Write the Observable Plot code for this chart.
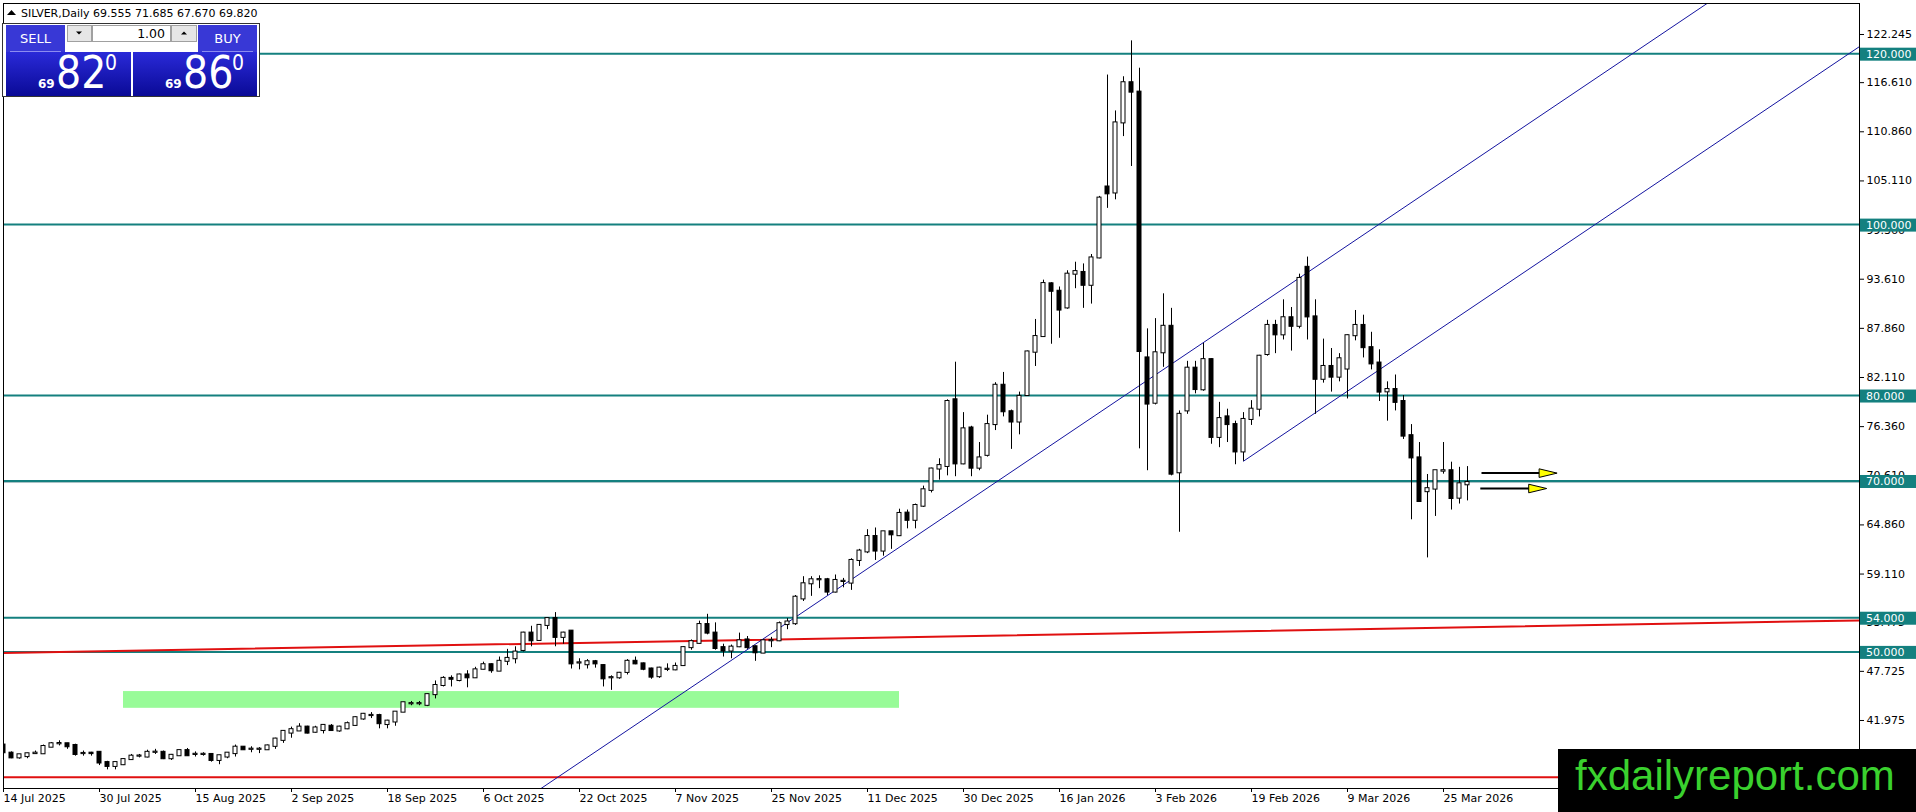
<!DOCTYPE html>
<html><head><meta charset="utf-8">
<script src="https://cdn.jsdelivr.net/npm/d3@7"></script>
<script src="https://cdn.jsdelivr.net/npm/@observablehq/plot@0.6"></script>
<style>
html,body{margin:0;padding:0;background:#fff;overflow:hidden;width:1916px;height:812px}
#chart{position:absolute;left:0;top:0}
#overlay{position:absolute;left:0;top:0;width:1916px;height:812px;pointer-events:none}
</style></head><body>
<div id="chart"></div>
<svg id="overlay" width="1916" height="812"></svg>
<script>
// ---- data ----
const symbolName = "SILVER,Daily";
const lastOHLC = ["69.555", "71.685", "67.670", "69.820"];
const opens  = [39.1,38.15,37.6,37.75,38.1,38.08,38.85,39.25,39.25,39.05,38.1,38.15,38.25,37.05,36.6,36.8,37.4,37.8,37.7,38.25,38.25,37.5,37.85,38.45,38.0,38.0,38.0,37.3,37.7,38.1,38.85,38.6,38.6,38.55,38.95,39.65,40.5,40.75,41.2,40.6,40.8,41.3,40.75,41.0,41.4,42.15,42.55,42.55,41.5,41.8,42.95,43.93,43.93,43.75,45.0,46.07,46.9,46.65,47.3,46.97,47.97,48.5,47.75,48.9,49.2,50.17,52.2,51.34,53.1,53.9,51.7,52.43,48.7,48.5,48.85,48.4,46.97,46.97,47.6,48.9,48.6,48.0,47.1,47.95,47.9,48.4,50.5,51.0,53.2,52.2,50.5,50.1,50.6,51.4,50.6,49.86,51.3,51.3,53.2,53.3,56.2,57.97,58.44,58.44,57.0,58.24,58.05,60.7,61.7,63.5,61.8,64.05,63.6,66.24,65.4,67.05,68.9,71.4,71.7,79.5,72.0,76.2,71.5,73.0,76.6,81.2,78.1,76.9,80.0,85.07,86.9,93.07,92.2,90.25,94.2,94.4,92.9,96.1,104.4,103.7,111.9,116.6,115.5,84.4,79.1,85.0,88.1,70.96,78.2,83.2,80.67,84.2,75.1,77.5,76.6,73.4,77.2,78.4,84.8,88.2,87.1,89.1,88.1,95.0,89.2,81.9,83.4,82.15,83.1,87.0,88.2,85.6,83.8,80.43,80.7,79.3,75.3,72.7,68.75,69.05,71.15,71.2,67.99,69.555];
const highs  = [39.3,38.3,38.0,38.15,38.4,39.1,39.4,39.6,39.3,39.2,38.4,38.25,38.3,37.2,37.1,37.5,38.0,38.0,38.5,38.6,38.4,38.0,38.5,38.7,38.3,38.2,38.05,37.9,38.2,39.1,38.9,38.9,38.8,39.1,39.9,40.8,41.2,41.6,41.3,41.3,41.5,41.5,41.3,41.8,42.4,42.8,42.9,42.7,42.0,43.0,44.1,44.2,44.2,45.1,46.6,47.1,47.2,47.4,47.8,48.2,48.8,48.6,49.4,50.3,50.6,52.3,53.0,53.2,54.0,54.6,52.3,52.5,49.2,49.1,49.0,48.5,47.2,47.6,49.1,49.4,48.7,48.1,48.2,48.6,48.7,50.6,51.4,53.6,54.4,53.4,50.9,50.8,52.2,51.8,50.7,51.4,51.7,53.5,53.9,56.6,58.8,58.8,58.9,58.6,59.0,58.6,60.9,62.0,64.3,64.5,64.1,64.1,66.7,66.6,67.3,69.4,71.5,72.6,79.5,83.9,78.0,76.4,74.5,77.7,81.5,82.7,78.3,80.4,85.2,88.9,93.5,93.2,92.7,94.6,95.6,95.4,96.5,103.3,117.5,113.3,117.3,121.5,118.3,87.8,89.0,91.9,90.2,78.2,84.0,84.0,86.1,84.3,79.2,78.4,77.0,78.0,79.4,84.7,88.8,88.8,91.2,90.3,94.2,96.2,91.2,86.6,85.5,84.9,87.1,89.95,89.4,87.4,85.35,81.6,82.4,80.0,76.6,74.5,70.76,71.2,74.5,72.2,71.6,71.685];
const lows   = [38.0,37.5,37.45,37.5,38.0,38.0,38.8,39.0,38.6,37.8,37.8,37.8,36.7,36.2,36.2,36.7,37.3,37.6,37.6,38.0,37.4,37.3,37.8,37.8,37.7,37.8,37.1,36.8,37.5,37.7,38.5,38.2,38.1,38.5,38.6,39.3,39.9,40.7,40.4,40.5,40.4,40.7,40.6,40.9,41.3,42.0,42.2,41.0,41.0,41.3,42.9,43.7,43.7,43.6,44.5,45.9,45.9,46.5,45.8,46.9,47.9,47.5,47.7,48.4,48.6,50.0,50.6,51.3,52.6,50.6,50.9,48.0,47.9,48.0,48.1,45.9,45.5,46.8,47.3,48.5,47.8,46.8,46.9,47.7,47.8,48.3,50.2,50.9,52.0,50.2,49.4,49.2,50.5,50.3,48.9,49.8,50.5,51.2,52.6,53.1,55.9,56.5,57.4,56.6,56.9,57.5,57.2,60.0,61.5,60.7,61.2,62.0,63.5,64.4,64.4,66.9,68.6,70.1,70.6,70.5,71.9,70.5,71.2,72.8,75.9,77.5,73.7,75.4,79.9,83.4,86.8,86.0,86.7,90.1,92.5,90.2,90.7,96.0,101.9,102.9,110.3,106.8,73.76,71.2,78.9,83.3,70.6,64.0,77.8,80.2,80.5,74.3,73.9,74.5,71.9,72.3,76.5,77.5,84.6,84.9,86.5,85.2,87.8,86.5,77.8,81.45,80.4,81.6,79.6,86.4,84.4,83.0,79.3,77.0,78.2,74.86,65.46,67.5,61.0,65.85,70.8,66.6,67.3,67.67];
const closes = [38.2,37.6,37.96,38.08,38.15,38.93,39.25,39.28,38.9,38.0,38.12,38.1,37.0,36.6,37.05,37.4,37.8,37.82,38.25,38.27,37.5,37.9,38.45,37.85,38.02,38.02,37.3,37.85,38.15,38.85,38.55,38.62,38.62,39.0,39.8,40.7,40.9,41.2,40.5,41.1,41.4,40.8,41.2,41.6,42.3,42.7,42.57,41.6,41.9,42.95,44.05,43.95,43.95,45.0,46.07,46.9,46.8,47.3,46.97,47.9,48.5,47.8,48.9,49.24,49.98,52.2,51.3,53.1,53.9,51.7,52.2,48.6,48.72,48.85,48.6,46.85,46.99,47.5,48.9,48.6,47.97,47.05,48.1,47.97,48.3,50.5,51.2,53.2,52.2,50.4,50.1,50.56,51.3,50.5,49.9,51.3,51.32,53.3,53.5,56.4,57.97,58.44,58.46,57.0,58.36,58.26,60.7,61.8,63.5,61.8,64.05,63.7,66.2,65.4,67.13,68.97,71.4,71.8,79.3,72.0,76.1,71.5,72.7,76.6,81.2,78.1,76.9,79.9,85.1,86.9,93.1,92.2,90.0,94.2,94.5,92.9,96.1,103.1,103.6,111.9,116.6,115.5,85.15,79.0,85.0,88.1,70.8,77.8,83.2,80.7,84.2,75.1,77.3,76.6,73.4,77.2,78.4,84.6,88.2,87.1,89.1,88.1,93.7,89.2,81.9,83.4,82.15,84.3,87.0,88.2,85.6,83.7,80.4,80.7,79.2,75.25,72.7,67.6,69.1,71.2,71.2,67.95,69.67,69.82];

const dateBars   = [0,12,24,36,48,60,72,84,96,108,120,132,144,156,168,180];
const dateLabels = ["14 Jul 2025","30 Jul 2025","15 Aug 2025","2 Sep 2025","18 Sep 2025","6 Oct 2025","22 Oct 2025","7 Nov 2025","25 Nov 2025","11 Dec 2025","30 Dec 2025","16 Jan 2026","3 Feb 2026","19 Feb 2026","9 Mar 2026","25 Mar 2026"];
const yTicks = [122.245,116.61,110.86,105.11,99.36,93.61,87.86,82.11,76.36,70.61,64.86,59.11,53.475,47.725,41.975];
const levels = [120,100,80,70,54,50];
const bidPrice = 69.82;
const lowRed = 35.34;
const redTrendI = [0, 232], redTrendV = [49.87, 53.69];
const chan1I = [67, 216], chan1V = [33.9, 127.8];
const chan2I = [155, 232], chan2V = [72.32, 120.83];
const zoneI = [15, 112], zoneV = [43.4, 45.36];
const arrowI1 = [184.75, 184.6], arrowI2 = [194.2, 192.9], arrowV = [70.92, 69.12];
const bidAsk = [["69","82","0"],["69","86","0"]];

// ---- build ----
const bars = opens.map((o,i)=>({i, open:o, high:highs[i], low:lows[i], close:closes[i]}));
const pairs = (I,V)=>I.map((x,k)=>({x, v:V[k]}));
const arrows = arrowV.map((v,k)=>({x1:arrowI1[k], x2:arrowI2[k], v}));
const TEAL = "#14807f";
const headSym = {draw(ctx){ctx.moveTo(0,0);ctx.lineTo(-18,-4.3);ctx.lineTo(-18,4.3);ctx.closePath();}};

const chart = Plot.plot({
  width:1916, height:812,
  marginTop:3, marginRight:57, marginBottom:24, marginLeft:3,
  style:{fontFamily:'"DejaVu Sans", sans-serif', fontSize:"11px", background:"#fff", color:"#000", overflow:"visible"},
  x:{type:"linear", domain:[0,232], axis:null},
  y:{type:"linear", domain:[34.017,125.872], axis:null},
  marks:[
    Plot.rect([{x1:zoneI[0],x2:zoneI[1],y1:zoneV[0],y2:zoneV[1]}],{x1:"x1",x2:"x2",y1:"y1",y2:"y2",fill:"#98fb98"}),
    Plot.ruleY(levels,{stroke:TEAL, strokeWidth:2}),
    Plot.ruleY([bidPrice],{stroke:"#a9c2c6", strokeWidth:1}),
    Plot.ruleY([lowRed],{stroke:"#e01010", strokeWidth:2}),
    Plot.line(pairs(redTrendI,redTrendV),{x:"x",y:"v",stroke:"#e01010",strokeWidth:2,clip:true}),
    Plot.line(pairs(chan1I,chan1V),{x:"x",y:"v",stroke:"#1414a0",strokeWidth:1,clip:true}),
    Plot.line(pairs(chan2I,chan2V),{x:"x",y:"v",stroke:"#1414a0",strokeWidth:1,clip:true}),
    Plot.ruleX(bars,{x:"i",y1:"low",y2:"high",stroke:"#000",strokeWidth:1,clip:true}),
    Plot.rect(bars,{x1:d=>d.i-0.25,x2:d=>d.i+0.25,y1:"open",y2:"close",
      fill:d=>d.close>d.open?"#ffffff":"#000000",stroke:"#000",strokeWidth:1,
      insetTop:-0.5,insetBottom:-0.5,clip:true}),
    Plot.link(arrows,{x1:"x1",x2:d=>d.x2-1.5,y1:"v",y2:"v",stroke:"#000",strokeWidth:2}),
    Plot.dot(arrows,{x:"x2",y:"v",symbol:headSym,r:5,fill:"#ffff00",stroke:"#000",strokeWidth:1}),
    Plot.frame({stroke:"#000"}),
    Plot.axisY(yTicks,{anchor:"right",tickSize:4,tickPadding:3,tickFormat:d=>d.toFixed(3),fontSize:11}),
    Plot.axisX(dateBars,{anchor:"bottom",tickSize:4,tickPadding:2,textAnchor:"start",
      tickFormat:d=>dateLabels[dateBars.indexOf(d)],fontSize:11})
  ]
});
document.getElementById("chart").appendChild(chart);

// level price labels on the axis, positioned through the y scale
const ys = chart.scale("y");
const svg = d3.select(chart);
const g = svg.append("g").attr("text-anchor","start");
levels.forEach(v=>{
  const y = ys.apply(v);
  g.append("rect").attr("x",1860).attr("y",y-5.5).attr("width",56).attr("height",13).attr("fill",TEAL);
  g.append("text").attr("x",1866).attr("y",y+1).attr("dy","0.36em").attr("fill","#fff")
   .attr("text-anchor","start").attr("font-family","DejaVu Sans").attr("font-size",11).text(v.toFixed(3));
});

// ---- overlay: header, trade panel, watermark ----
const ov = d3.select("#overlay");
const defs = ov.append("defs");
const grad = defs.append("linearGradient").attr("id","pbox").attr("x1",0).attr("y1",0).attr("x2",0).attr("y2",1);
grad.append("stop").attr("offset","0%").attr("stop-color","#2a2ad8");
grad.append("stop").attr("offset","100%").attr("stop-color","#0a0a96");

ov.append("path").attr("d","M7,15 L11.5,10 L16,15 Z").attr("fill","#000");
ov.append("text").attr("x",21).attr("y",17).attr("font-family","DejaVu Sans").attr("font-size",11)
  .attr("fill","#000").text(symbolName+"  "+lastOHLC.join(" "));

ov.append("rect").attr("x",2.5).attr("y",23.5).attr("width",257).attr("height",73).attr("fill","#fff").attr("stroke","#333");
[[6,"SELL"],[198,"BUY"]].forEach(([x,t])=>{
  ov.append("rect").attr("x",x).attr("y",25).attr("width",59).attr("height",27).attr("fill","#3838d6");
  ov.append("line").attr("x1",x+4).attr("x2",x+55).attr("y1",51.5).attr("y2",51.5).attr("stroke","#8c8cf0");
  ov.append("text").attr("x",x+29.5).attr("y",43).attr("text-anchor","middle").attr("fill","#fff")
    .attr("font-family","DejaVu Sans").attr("font-size",13).text(t);
});
ov.append("rect").attr("x",67.5).attr("y",25.5).attr("width",24).attr("height",16).attr("fill","#e6e6e6").attr("stroke","#a0a0a0");
ov.append("path").attr("d","M76,31.5 L82,31.5 L79,34.5 Z").attr("fill","#000");
ov.append("rect").attr("x",92.5).attr("y",25.5).attr("width",78).attr("height",16).attr("fill","#fff").attr("stroke","#a0a0a0");
ov.append("text").attr("x",165).attr("y",38).attr("text-anchor","end").attr("font-family","DejaVu Sans").attr("font-size",12.5).attr("fill","#000").text("1.00");
ov.append("rect").attr("x",171.5).attr("y",25.5).attr("width",25).attr("height",16).attr("fill","#e6e6e6").attr("stroke","#a0a0a0");
ov.append("path").attr("d","M181,34.5 L187,34.5 L184,31.5 Z").attr("fill","#000");
[[6,125],[133,124]].forEach(([x,w],k)=>{
  ov.append("rect").attr("x",x).attr("y",52).attr("width",w).attr("height",44).attr("fill","url(#pbox)");
  const [a,b,c] = bidAsk[k];
  ov.append("text").attr("x",x+32).attr("y",88).attr("font-family","DejaVu Sans").attr("font-weight","bold").attr("font-size",12).attr("fill","#fff").text(a);
  ov.append("text").attr("x",x+50).attr("y",88).attr("font-family","'DejaVu Sans Condensed','DejaVu Sans'").attr("font-stretch","condensed").attr("font-size",44).attr("fill","#fff").text(b);
  ov.append("text").attr("x",x+99).attr("y",70).attr("font-family","'DejaVu Sans Condensed','DejaVu Sans'").attr("font-stretch","condensed").attr("font-size",21).attr("fill","#fff").text(c);
});

ov.append("rect").attr("x",1558).attr("y",749).attr("width",358).attr("height",63).attr("fill","#000");
ov.append("text").attr("x",1575).attr("y",790).attr("font-family","'Liberation Sans', Arial, sans-serif").attr("font-size",42).attr("fill","#3ad12e").text("fxdailyreport.com");
</script>
</body></html>
